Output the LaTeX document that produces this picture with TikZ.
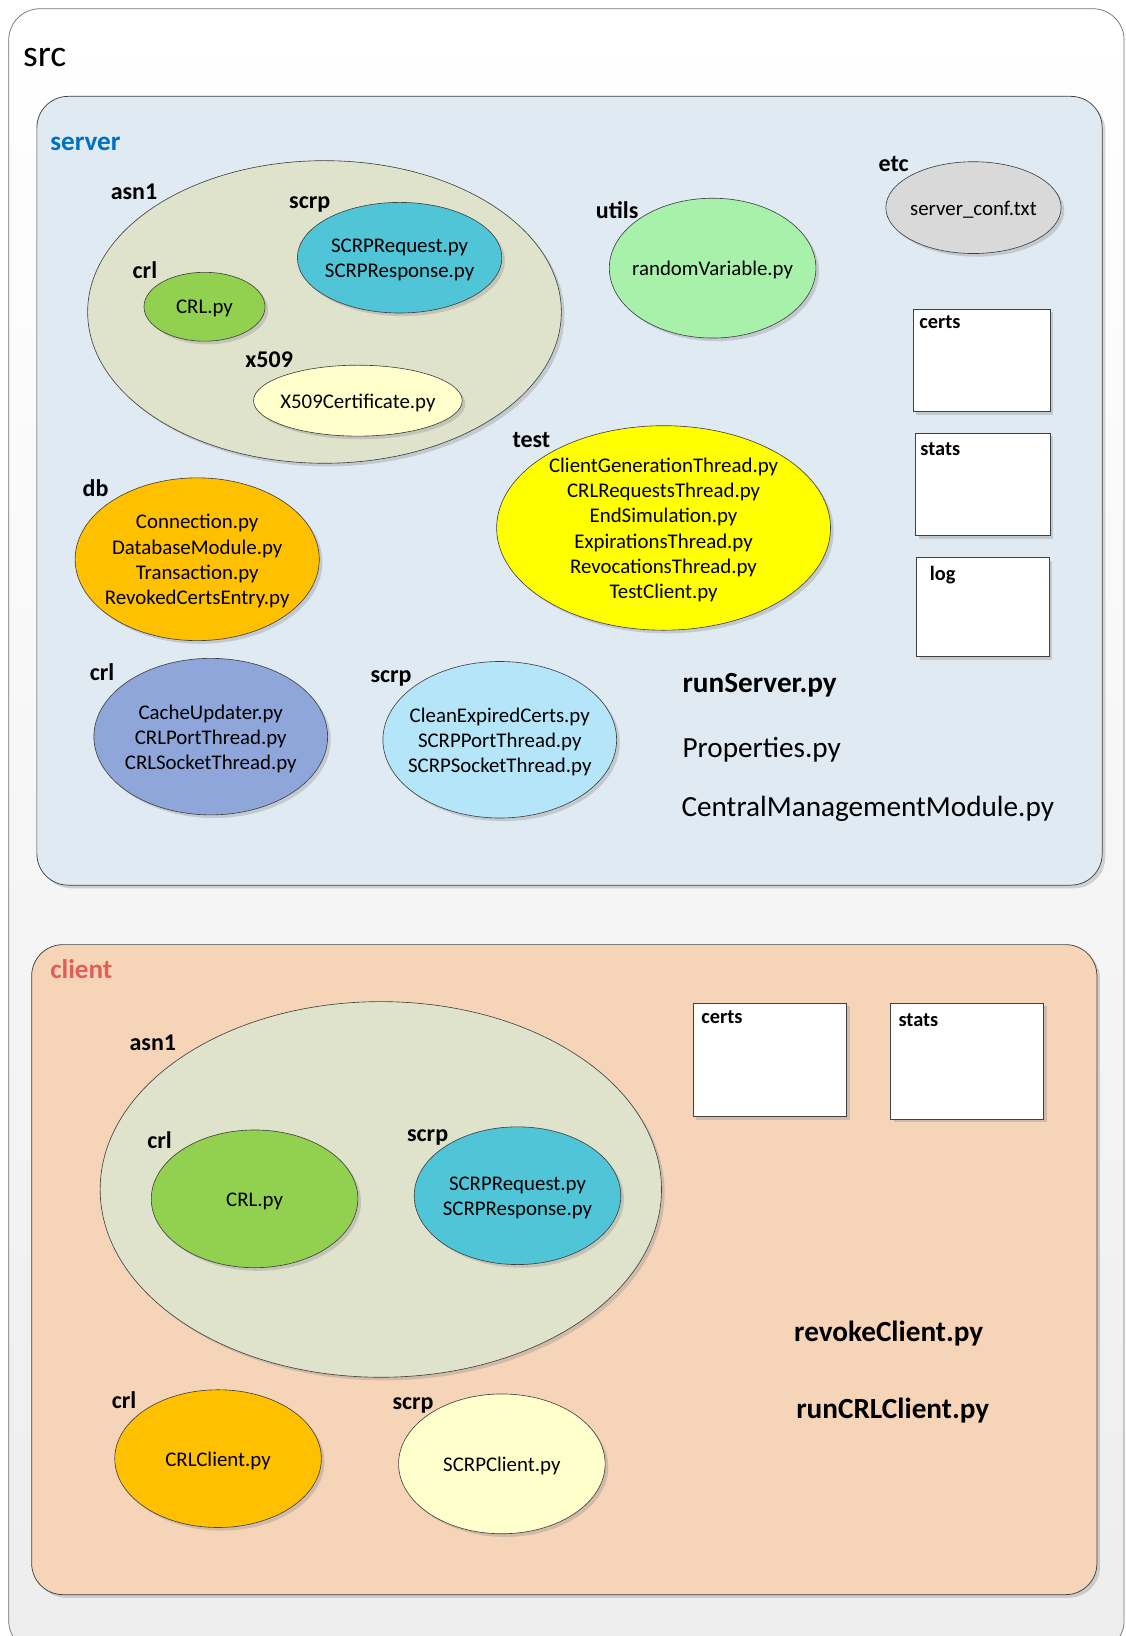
\documentclass[tikz,border=0pt]{standalone}
\usepackage{fontspec}
\setmainfont{Carlito}
\usetikzlibrary{shapes.geometric,shadows}

\definecolor{serverbg}{HTML}{DFEAF3}
\definecolor{clientbg}{HTML}{F6D4B8}
\definecolor{asnfill}{HTML}{DFE3CB}
\definecolor{scrpfill}{HTML}{4FC5D7}
\definecolor{crlfill}{HTML}{92D050}
\definecolor{paleyellow}{HTML}{FFFFCC}
\definecolor{utilsfill}{HTML}{A8F1AB}
\definecolor{etcfill}{HTML}{D9D9D9}
\definecolor{testfill}{HTML}{FFFF00}
\definecolor{orangefill}{HTML}{FFC000}
\definecolor{crlsrvfill}{HTML}{8FA6DA}
\definecolor{scrpsrvfill}{HTML}{B5E5F8}
\definecolor{serverblue}{HTML}{0070C0}
\definecolor{clientred}{HTML}{E06058}
\definecolor{edgegray}{HTML}{404040}

\tikzset{
  softshadow/.style={drop shadow={shadow xshift=3pt, shadow yshift=-3pt, opacity=0.35, fill=black!45}},
  container/.style={rectangle, rounded corners=30pt, draw=edgegray, line width=0.7pt,
    anchor=north west, inner sep=0pt, softshadow},
  folder/.style={ellipse, draw=edgegray, line width=0.6pt, inner sep=0pt, softshadow},
  dirbox/.style={rectangle, draw=edgegray, line width=0.7pt, fill=white, anchor=north west,
    inner sep=0pt, softshadow},
  dirlabel/.style={anchor=base west, inner sep=0pt, font=\bfseries\fontsize{23}{27}\selectfont},
  boxlabel/.style={anchor=base west, inner sep=0pt, font=\bfseries\fontsize{19.5}{23}\selectfont},
  files/.style={align=center, inner sep=0pt, yshift=-2pt, font=\fontsize{20}{24.2}\selectfont},
  bigfile/.style={anchor=base west, inner sep=0pt, font=\fontsize{28}{32}\selectfont},
  bigbold/.style={anchor=base west, inner sep=0pt, font=\bfseries\fontsize{28}{32}\selectfont},
}

\begin{document}
\begin{tikzpicture}[x=1pt, y=-1pt]
\useasboundingbox (0,0) rectangle (1079,1568);
\clip (0,0) rectangle (1079,1568);

% top-level folder
\node[rectangle, rounded corners=30pt, draw=black!55, line width=0.7pt, anchor=north west,
      inner sep=0pt, minimum width=1069pt, minimum height=1575pt,
      top color=white, middle color=white, bottom color=black!7] (src) at (8,8) {};
\node[anchor=base west, inner sep=0pt, font=\fontsize{36}{40}\selectfont] (srclabel) at (22,64) {src};

% ---------------- server ----------------
\node[container, fill=serverbg, minimum width=1021pt, minimum height=756pt] (server) at (35,92) {};
\node[anchor=base west, inner sep=0pt, text=serverblue, font=\bfseries\fontsize{26}{30}\selectfont] (serverlabel) at (48,144) {server};

% asn1 package
\node[folder, fill=asnfill, minimum width=454pt, minimum height=290pt] (sasn1) at (311,299) {};
\node[dirlabel] (sasn1l) at (106,191) {asn1};

\node[folder, fill=scrpfill, minimum width=196pt, minimum height=106pt] (sscrp) at (383,247) {};
\node[dirlabel] (sscrpl) at (277,200) {scrp};
\node[files] (sscrpt) at (sscrp) {SCRPRequest.py\\SCRPResponse.py};

\node[folder, fill=crlfill, minimum width=116pt, minimum height=66pt] (scrl) at (196,294) {};
\node[dirlabel] (scrll) at (127,267) {crl};
\node[files] (scrlt) at (scrl) {CRL.py};

\node[folder, fill=paleyellow, minimum width=200pt, minimum height=68pt] (sx509) at (343,384) {};
\node[dirlabel] (sx509l) at (235,352) {x509};
\node[files] (sx509t) at (sx509) {X509Certificate.py};

% utils, etc
\node[folder, fill=utilsfill, minimum width=198pt, minimum height=134pt] (sutils) at (683,257) {};
\node[dirlabel] (sutilsl) at (571,209) {utils};
\node[files] (sutilst) at (sutils) {randomVariable.py};

\node[folder, fill=etcfill, minimum width=168pt, minimum height=88pt] (setc) at (933,199) {};
\node[dirlabel] (setcl) at (842,164) {etc};
\node[files] (setct) at (setc) {server\_conf.txt};

% empty directories
\node[dirbox, minimum width=131pt, minimum height=98pt] (scerts) at (875,296) {};
\node[boxlabel] (scertsl) at (881,315) {certs};
\node[dirbox, minimum width=129pt, minimum height=98pt] (sstats) at (877,415) {};
\node[boxlabel] (sstatsl) at (882,437) {stats};
\node[dirbox, minimum width=127pt, minimum height=95pt] (slog) at (878,534) {};
\node[boxlabel] (slogl) at (891,556) {log};

% test
\node[folder, fill=testfill, minimum width=320pt, minimum height=196pt] (stest) at (636,506) {};
\node[dirlabel] (stestl) at (491,429) {test};
\node[files] (stestt) at (stest) {ClientGenerationThread.py\\CRLRequestsThread.py\\EndSimulation.py\\ExpirationsThread.py\\RevocationsThread.py\\TestClient.py};

% db
\node[folder, fill=orangefill, minimum width=234pt, minimum height=156pt] (sdb) at (189,536) {};
\node[dirlabel] (sdbl) at (79,476) {db};
\node[files] (sdbt) at (sdb) {Connection.py\\DatabaseModule.py\\Transaction.py\\RevokedCertsEntry.py};

% crl, scrp
\node[folder, fill=crlsrvfill, minimum width=224pt, minimum height=150pt] (scrlsrv) at (202,706) {};
\node[dirlabel] (scrlsrvl) at (86,652) {crl};
\node[files] (scrlsrvt) at (scrlsrv) {CacheUpdater.py\\CRLPortThread.py\\CRLSocketThread.py};

\node[folder, fill=scrpsrvfill, minimum width=224pt, minimum height=150pt] (sscrpsrv) at (479,709) {};
\node[dirlabel] (sscrpsrvl) at (355,654) {scrp};
\node[files] (sscrpsrvt) at (sscrpsrv) {CleanExpiredCerts.py\\SCRPPortThread.py\\SCRPSocketThread.py};

% top-level server modules
\node[bigbold] (runserver) at (654,664) {runServer.py};
\node[bigfile] (properties) at (654,726) {Properties.py};
\node[bigfile] (cmm) at (653,783) {CentralManagementModule.py};

% ---------------- client ----------------
\node[container, fill=clientbg, minimum width=1021pt, minimum height=623pt] (client) at (30,905) {};
\node[anchor=base west, inner sep=0pt, text=clientred, font=\bfseries\fontsize{26}{30}\selectfont] (clientlabel) at (48,938) {client};

\node[folder, fill=asnfill, minimum width=538pt, minimum height=360pt] (casn1) at (365,1140) {};
\node[dirlabel] (casn1l) at (124,1007) {asn1};

\node[folder, fill=crlfill, minimum width=198pt, minimum height=132pt] (ccrl) at (244,1149) {};
\node[dirlabel] (ccrll) at (141,1101) {crl};
\node[files] (ccrlt) at (ccrl) {CRL.py};

\node[folder, fill=scrpfill, minimum width=198pt, minimum height=132pt] (cscrp) at (496,1146) {};
\node[dirlabel] (cscrpl) at (390,1094) {scrp};
\node[files] (cscrpt) at (cscrp) {SCRPRequest.py\\SCRPResponse.py};

\node[dirbox, minimum width=147pt, minimum height=109pt] (ccerts) at (664,961) {};
\node[boxlabel] (ccertsl) at (672,981) {certs};
\node[dirbox, minimum width=147pt, minimum height=111pt] (cstats) at (853,961) {};
\node[boxlabel] (cstatsl) at (861,984) {stats};

\node[bigbold] (revoke) at (761,1286) {revokeClient.py};
\node[bigbold] (runcrl) at (763,1360) {runCRLClient.py};

\node[folder, fill=orangefill, minimum width=198pt, minimum height=132pt] (ccrlc) at (209,1398) {};
\node[dirlabel] (ccrlcl) at (107,1350) {crl};
\node[files] (ccrlct) at (ccrlc) {CRLClient.py};

\node[folder, fill=paleyellow, minimum width=198pt, minimum height=134pt] (cscrpc) at (481,1403) {};
\node[dirlabel] (cscrpcl) at (376,1351) {scrp};
\node[files] (cscrpct) at (cscrpc) {SCRPClient.py};

\end{tikzpicture}
\end{document}
